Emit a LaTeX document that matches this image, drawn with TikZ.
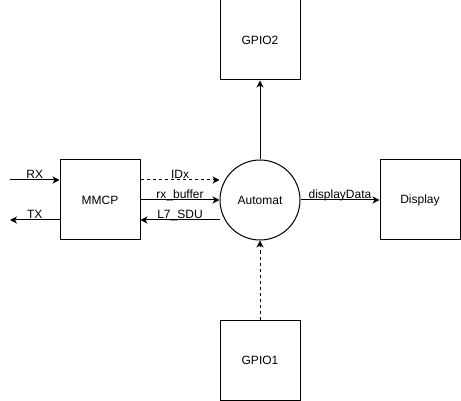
\documentclass[tikz,border=0pt]{standalone}
\usepackage{fontspec}
\setmainfont{Liberation Sans}
\usetikzlibrary{arrows.meta, positioning}

\begin{document}
\begin{tikzpicture}[x=1pt,y=1pt,node distance=160pt,on grid,auto,
    font=\fontsize{12}{14}\selectfont,line width=1pt,
    >={Stealth[length=7pt,width=7pt,inset=2pt]},
    blk/.style={draw,minimum size=80pt,inner sep=0pt},
    aut/.style={draw,circle,minimum size=80pt,inner sep=0pt},
    lbl/.style={above,inner sep=1pt,text depth=0pt},
    dsh/.style={dash pattern=on 3pt off 3pt}]
      \useasboundingbox (0,0) rectangle (461,-401);
      \node[aut] (q_aut) at (260,-200) {Automat};
      \node[blk] (q_mmcp) [left = of q_aut] {MMCP};
      \node[blk] (q_disp) [right = of q_aut] {Display};
      \node[blk] (q_gpio2) [above = of q_aut] {GPIO2};
      \node[blk] (q_gpio1) [below = of q_aut] {GPIO1};
      \coordinate (q_rx) at (10,-180);
      \coordinate (q_tx) at (10,-220);

      \path[->] (q_rx) edge node [lbl] {RX} ([yshift=20pt]q_mmcp.west)
            ([yshift=-20pt]q_mmcp.west) edge node [lbl] {TX} (q_tx);
      \path[->] ([yshift=20pt]q_mmcp.east) edge [dsh] node [lbl] {IDx} ([yshift=20pt]q_aut.west)
            (q_mmcp.east) edge node [lbl] {rx\_buffer} (q_aut.west)
            ([yshift=-20pt]q_aut.west) edge node [lbl] {L7\_SDU} ([yshift=-20pt]q_mmcp.east);
      \path[->] (q_aut) edge node [lbl] {displayData} (q_disp)
            (q_aut) edge (q_gpio2)
            (q_gpio1) edge [dsh] (q_aut);
    \end{tikzpicture}
\end{document}
